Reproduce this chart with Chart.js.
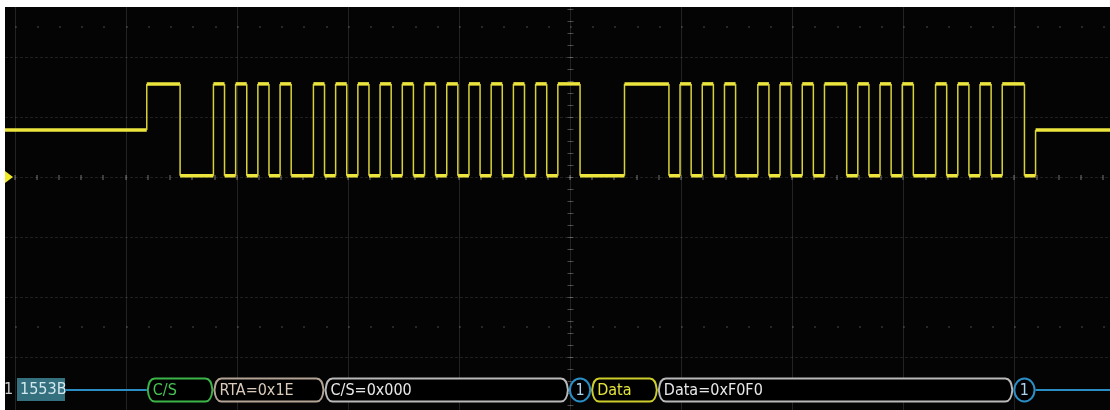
<!DOCTYPE html>
<html>
<head>
<meta charset="utf-8">
<script src="https://cdn.jsdelivr.net/npm/chart.js@4.4.0/dist/chart.umd.min.js"></script>
<style>
body { margin: 0; background: #fff; }
canvas { display: block; }
</style>
</head>
<body>
<canvas id="graficaBus" width="1110" height="410"></canvas>
<script>
// tiempo en microsegundos (0 = disparo, linea central), 5 us por division
var tiempoMin = -25.43
var tiempoMax = 24.30
var nivelMin = -3.88
var nivelMax = 2.83

// niveles de la traza (divisiones verticales)
var niveles = { H: 1.55, L: 0.02, I: 0.78 }

// flancos: instante y estado despues del flanco
var tiemposFlancos = [
    -19.05, -17.55, -16.05, -15.55, -15.05, -14.55, -14.05, -13.55, -13.05, -12.55,
    -11.55, -11.05, -10.55, -10.05, -9.55, -9.05, -8.55, -8.05, -7.55, -7.05,
    -6.55, -6.05, -5.55, -5.05, -4.55, -4.05, -3.55, -3.05, -2.55, -2.05,
    -1.55, -1.05, -0.55, 0.45, 2.45, 4.45, 4.95, 5.45, 5.95, 6.45,
    6.95, 7.45, 8.45, 8.95, 9.45, 9.95, 10.45, 10.95, 11.45, 12.45,
    12.95, 13.45, 13.95, 14.45, 14.95, 15.45, 16.45, 16.95, 17.45, 17.95,
    18.45, 18.95, 19.45, 20.45, 20.95
]
var estadosFlancos = [
    'H', 'L', 'H', 'L', 'H', 'L', 'H', 'L', 'H', 'L',
    'H', 'L', 'H', 'L', 'H', 'L', 'H', 'L', 'H', 'L',
    'H', 'L', 'H', 'L', 'H', 'L', 'H', 'L', 'H', 'L',
    'H', 'L', 'H', 'L', 'H', 'L', 'H', 'L', 'H', 'L',
    'H', 'L', 'H', 'L', 'H', 'L', 'H', 'L', 'H', 'L',
    'H', 'L', 'H', 'L', 'H', 'L', 'H', 'L', 'H', 'L',
    'H', 'L', 'H', 'L', 'I'
]

// decodificacion 1553B
var etiquetaBus = '1553B'
var canalBus = '1'
var nivelBus = -3.55
var decodTextos = ['C/S', 'RTA=0x1E', 'C/S=0x000', '1', 'Data', 'Data=0xF0F0', '1']
var decodTipos = ['sync', 'rta', 'campo', 'paridad', 'datos', 'campo', 'paridad']
var decodInicio = [-19.05, -16.05, -11.05, -0.05, 0.95, 3.95, 19.95]
var decodFin = [-16.05, -11.05, -0.05, 0.95, 3.95, 19.95, 20.95]

var coloresDecod = {
    sync: { borde: '#3cb548', texto: '#47c453' },
    rta: { borde: '#b3a496', texto: '#d9cabb' },
    campo: { borde: '#b9b9b9', texto: '#e8e8e8' },
    datos: { borde: '#cdcd2c', texto: '#e3e33b' },
    paridad: { borde: '#2b8fc6', texto: '#a9d6f2' }
}
var colorLineaBus = '#2a8ec4'
var colorTraza = '#ece53e'
var fuenteBus = '16px "Liberation Sans Narrow", "DejaVu Sans Condensed", sans-serif'

var puntos = [{ x: tiempoMin, y: niveles.I }]
var nivelActual = niveles.I
for (let i = 0; i < tiemposFlancos.length; i++) {
    puntos.push({ x: tiemposFlancos[i], y: nivelActual })
    nivelActual = niveles[estadosFlancos[i]]
    puntos.push({ x: tiemposFlancos[i], y: nivelActual })
}
puntos.push({ x: tiempoMax, y: nivelActual })

var rejilla = {
    id: 'rejilla',
    beforeDatasetsDraw: function (chart) {
        var ctx = chart.ctx
        var area = chart.chartArea
        var sx = chart.scales.x
        var sy = chart.scales.y
        ctx.save()
        ctx.fillStyle = '#040404'
        ctx.fillRect(area.left, area.top, area.right - area.left, area.bottom - area.top)

        ctx.lineWidth = 1
        ctx.strokeStyle = 'rgba(255,255,255,0.12)'
        for (let t = -25; t <= tiempoMax; t += 5) {
            var px = Math.round(sx.getPixelForValue(t)) + 0.5
            ctx.beginPath()
            ctx.moveTo(px, area.top)
            ctx.lineTo(px, area.bottom)
            ctx.stroke()
        }
        ctx.setLineDash([3, 2])
        ctx.strokeStyle = 'rgba(255,255,255,0.11)'
        for (let v = -3; v <= 2; v++) {
            var py = Math.round(sy.getPixelForValue(v)) + 0.5
            ctx.beginPath()
            ctx.moveTo(area.left, py)
            ctx.lineTo(area.right, py)
            ctx.stroke()
        }
        ctx.setLineDash([])

        // marcas de la cruz central y filas de puntos
        var cx = Math.round(sx.getPixelForValue(0)) + 0.5
        var cy = Math.round(sy.getPixelForValue(0)) + 0.5
        ctx.strokeStyle = 'rgba(255,255,255,0.28)'
        for (let v = Math.ceil(nivelMin * 5) / 5; v <= nivelMax; v += 0.2) {
            var py2 = Math.round(sy.getPixelForValue(v)) + 0.5
            ctx.beginPath()
            ctx.moveTo(cx - 3, py2)
            ctx.lineTo(cx + 3, py2)
            ctx.stroke()
        }
        for (let t = Math.ceil(tiempoMin); t <= tiempoMax; t++) {
            var px2 = Math.round(sx.getPixelForValue(t))
            ctx.fillStyle = 'rgba(255,255,255,0.22)'
            ctx.fillRect(px2 - 1, cy - 2.5, 2, 5)
            ctx.fillStyle = 'rgba(255,255,255,0.14)'
            ctx.fillRect(px2, Math.round(sy.getPixelForValue(2.5)) - 1, 2, 2)
            ctx.fillRect(px2, Math.round(sy.getPixelForValue(-2.5)) - 1, 2, 2)
        }
        ctx.restore()
    }
}

function hexagono(ctx, x0, x1, yc, h) {
    var m = 5
    ctx.beginPath()
    ctx.moveTo(x0, yc)
    ctx.quadraticCurveTo(x0 + 1, yc - h, x0 + m + 2, yc - h)
    ctx.lineTo(x1 - m - 2, yc - h)
    ctx.quadraticCurveTo(x1 - 1, yc - h, x1, yc)
    ctx.quadraticCurveTo(x1 - 1, yc + h, x1 - m - 2, yc + h)
    ctx.lineTo(x0 + m + 2, yc + h)
    ctx.quadraticCurveTo(x0 + 1, yc + h, x0, yc)
    ctx.closePath()
}

var busDecodificado = {
    id: 'busDecodificado',
    afterDatasetsDraw: function (chart) {
        var ctx = chart.ctx
        var area = chart.chartArea
        var sx = chart.scales.x
        var sy = chart.scales.y
        var yc = Math.round(sy.getPixelForValue(nivelBus))
        ctx.save()

        // marcador del canal a la izquierda
        var y0 = sy.getPixelForValue(0)
        ctx.fillStyle = '#f1ea2a'
        ctx.beginPath()
        ctx.moveTo(area.left, y0 - 6)
        ctx.lineTo(area.left + 8, y0)
        ctx.lineTo(area.left, y0 + 6)
        ctx.closePath()
        ctx.fill()

        // etiqueta del bus
        ctx.font = fuenteBus
        ctx.textBaseline = 'middle'
        ctx.fillStyle = '#c9c9c9'
        ctx.fillText(canalBus, area.left - 1, yc)
        ctx.fillStyle = '#35707f'
        ctx.fillRect(area.left + 12, yc - 12, 48, 23)
        ctx.fillStyle = '#d3e8ee'
        ctx.fillText(etiquetaBus, area.left + 15, yc)

        ctx.strokeStyle = colorLineaBus
        ctx.lineWidth = 2
        ctx.beginPath()
        ctx.moveTo(area.left + 60, yc)
        ctx.lineTo(sx.getPixelForValue(decodInicio[0]), yc)
        ctx.moveTo(sx.getPixelForValue(decodFin[decodFin.length - 1]), yc)
        ctx.lineTo(area.right, yc)
        ctx.stroke()

        ctx.lineJoin = 'round'
        for (let i = 0; i < decodTextos.length; i++) {
            var x0 = sx.getPixelForValue(decodInicio[i]) + 1
            var x1 = sx.getPixelForValue(decodFin[i]) - 1
            var col = coloresDecod[decodTipos[i]]
            ctx.lineWidth = 2
            ctx.strokeStyle = col.borde
            ctx.fillStyle = '#000'
            if (decodTipos[i] === 'paridad') {
                ctx.beginPath()
                ctx.ellipse((x0 + x1) / 2, yc, (x1 - x0) / 2, 11.5, 0, 0, Math.PI * 2)
                ctx.fill()
                ctx.stroke()
                ctx.fillStyle = col.texto
                ctx.textAlign = 'center'
                ctx.fillText(decodTextos[i], (x0 + x1) / 2, yc + 1)
            } else {
                hexagono(ctx, x0, x1, yc, 11.5)
                ctx.fill()
                ctx.stroke()
                ctx.fillStyle = col.texto
                ctx.textAlign = 'left'
                ctx.fillText(decodTextos[i], x0 + 5, yc + 1)
            }
        }
        ctx.restore()
    }
}

var ctx = document.getElementById('graficaBus').getContext('2d')

new Chart(ctx, {
    type: 'line',
    data: {
        datasets: [{
            data: puntos,
            borderColor: colorTraza,
            borderWidth: 3.5,
            pointRadius: 0,
            tension: 0,
            segment: {
                borderWidth: function (c) { return c.p0.parsed.x === c.p1.parsed.x ? 1.5 : 3.5 },
                borderColor: function (c) { return c.p0.parsed.x === c.p1.parsed.x ? '#d8d23a' : colorTraza }
            }
        }]
    },
    options: {
        responsive: false,
        animation: false,
        layout: { padding: { left: 5, top: 7, right: 0, bottom: 0 } },
        scales: {
            x: { type: 'linear', min: tiempoMin, max: tiempoMax, display: false },
            y: { type: 'linear', min: nivelMin, max: nivelMax, display: false }
        },
        plugins: {
            legend: { display: false },
            tooltip: { enabled: false }
        }
    },
    plugins: [rejilla, busDecodificado]
});
</script>
</body>
</html>
